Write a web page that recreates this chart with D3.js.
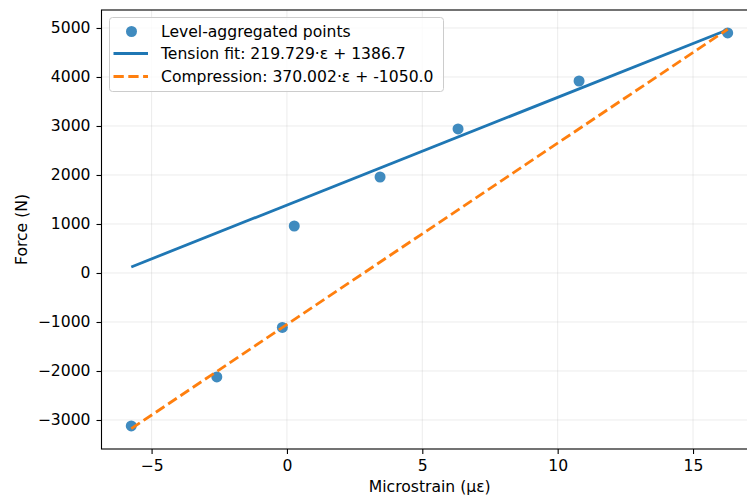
<!DOCTYPE html>
<html><head><meta charset="utf-8">
<script src="https://cdn.jsdelivr.net/npm/d3@7"></script>
<style>body{margin:0;background:#fff}svg{display:block;font-family:"DejaVu Sans",sans-serif}</style>
</head><body><svg id="c" width="747" height="497"></svg>
<script>
const strain = [-5.75, -2.59, -0.17, 0.27, 3.44, 6.32, 10.79, 16.28];
const force = [-3122, -2122, -1112, 959, 1959, 2939, 3918, 4898];
const tension = {slope: 219.729, intercept: 1386.7};
const compression = {slope: 370.002, intercept: -1050.0};
const xTicks = [-5, 0, 5, 10, 15];
const yTicks = [-3000, -2000, -1000, 0, 1000, 2000, 3000, 4000, 5000];
const legendLabels = ["Level-aggregated points", "Tension fit: 219.729·ε + 1386.7", "Compression: 370.002·ε + -1050.0"];

const FS = 15.6;
const svg = d3.select("#c");
const L = 101.5, R = 758, T = 10, B = 449;
const x = d3.scaleLinear().domain([-6.85, 17.4]).range([L, R]);
const y = d3.scaleLinear().domain([-3592, 5367]).range([B, T]);

// grid
const g = svg.append("g");
g.selectAll(".gx").data(xTicks).join("line").attr("x1", d => x(d)).attr("x2", d => x(d)).attr("y1", T).attr("y2", B).attr("stroke", "#b0b0b0").attr("stroke-opacity", 0.3).attr("stroke-width", 0.8);
g.selectAll(".gy").data(yTicks).join("line").attr("y1", d => y(d)).attr("y2", d => y(d)).attr("x1", L).attr("x2", R).attr("stroke", "#b0b0b0").attr("stroke-opacity", 0.3).attr("stroke-width", 0.8);

const xExt = d3.extent(strain);
const lineGen = d3.line().x(d => x(d[0])).y(d => y(d[1]));
const tLine = xExt.map(v => [v, tension.slope * v + tension.intercept]);
const cLine = xExt.map(v => [v, compression.slope * v + compression.intercept]);

// points
svg.append("g").selectAll("circle").data(strain).join("circle")
  .attr("cx", d => x(d)).attr("cy", (d, i) => y(force[i])).attr("r", 5.5)
  .attr("fill", "#1f77b4").attr("fill-opacity", 0.85);

svg.append("path").attr("d", lineGen(tLine)).attr("stroke", "#1f77b4").attr("stroke-width", 2.8).attr("fill", "none");
svg.append("path").attr("d", lineGen(cLine)).attr("stroke", "#ff7f0e").attr("stroke-width", 2.8).attr("fill", "none").attr("stroke-dasharray", "10.3,4.5");

// axes
const fmt = d => d < 0 ? "\u2212" + Math.abs(d) : d;
const xa = svg.append("g").attr("transform", `translate(0,${B})`).call(d3.axisBottom(x).tickValues(xTicks).tickSize(5).tickPadding(6).tickFormat(fmt));
const ya = svg.append("g").attr("transform", `translate(${L},0)`).call(d3.axisLeft(y).tickValues(yTicks).tickSize(5).tickPadding(6).tickFormat(fmt));
[xa, ya].forEach(a => {
  a.attr("font-size", FS).attr("font-family", "DejaVu Sans");
  a.selectAll("text").attr("fill", "#000");
  a.selectAll("line").attr("stroke", "#000").attr("stroke-width", 1.1);
  a.select(".domain").remove();
});
// spines
svg.append("rect").attr("x", L).attr("y", T).attr("width", R - L).attr("height", B - T).attr("fill", "none").attr("stroke", "#000").attr("stroke-width", 1.1);

svg.append("text").attr("x", (L + R) / 2).attr("y", 492).attr("text-anchor", "middle").attr("font-size", FS).text("Microstrain (με)");
svg.append("text").attr("transform", `translate(27,${(T + B) / 2}) rotate(-90)`).attr("text-anchor", "middle").attr("font-size", FS).text("Force (N)");

// legend
const lg = svg.append("g");
lg.append("rect").attr("x", 109.5).attr("y", 17.5).attr("width", 334).attr("height", 74).attr("rx", 3).attr("fill", "#fff").attr("fill-opacity", 0.8).attr("stroke", "#cccccc");
const rowY = [31.5, 53.5, 76.5];
lg.append("circle").attr("cx", 131.5).attr("cy", rowY[0]).attr("r", 5.5).attr("fill", "#1f77b4").attr("fill-opacity", 0.85);
lg.append("line").attr("x1", 113.5).attr("x2", 148).attr("y1", rowY[1]).attr("y2", rowY[1]).attr("stroke", "#1f77b4").attr("stroke-width", 2.8);
lg.append("line").attr("x1", 113.5).attr("x2", 148).attr("y1", rowY[2]).attr("y2", rowY[2]).attr("stroke", "#ff7f0e").attr("stroke-width", 2.8).attr("stroke-dasharray", "10.3,4.5");
lg.selectAll("text").data(legendLabels).join("text").attr("x", 161).attr("y", (d, i) => rowY[i] + 5.5).attr("font-size", FS).text(d => d);
</script></body></html>
